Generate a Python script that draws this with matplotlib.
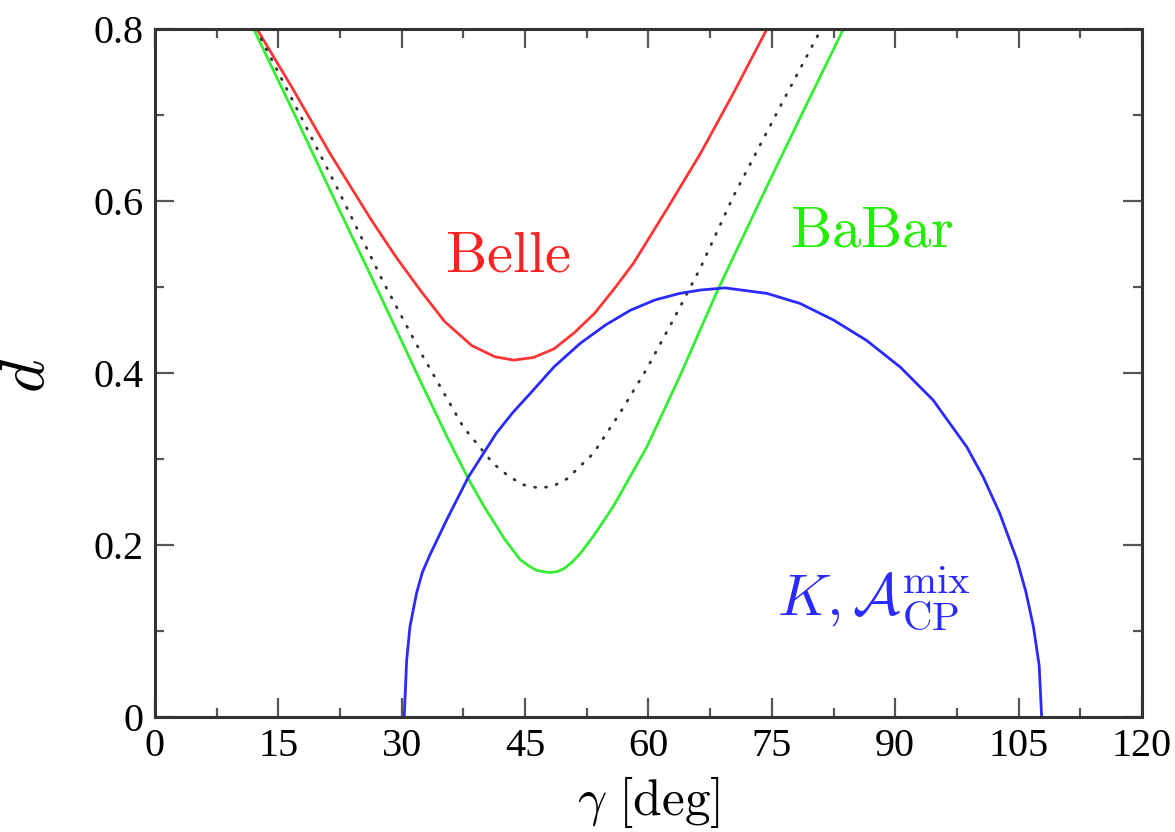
import matplotlib.pyplot as plt

# gamma [deg] vs d
gamma_belle = [12.4, 16.6, 21.3, 26.3, 29.3, 32.2, 35.2, 38.5, 41.3, 43.6, 46.0, 48.5, 51.0, 53.5,
               56.0, 58.2, 62.2, 66.3, 70.3, 74.4]
d_belle = [0.80, 0.733, 0.655, 0.578, 0.535, 0.497, 0.460, 0.432, 0.419, 0.415, 0.418, 0.428, 0.447, 0.470,
           0.500, 0.528, 0.590, 0.655, 0.725, 0.80]

gamma_babar = [12.0, 17.0, 22.0, 27.4, 32.2, 35.5, 38.1, 40.0, 42.5, 44.4, 45.4, 46.3, 47.2, 48.0,
               48.9, 49.8, 50.7, 51.7, 53.5, 55.7, 59.8, 63.8, 68.3, 74.4, 79.0, 83.7]
d_babar = [0.80, 0.70, 0.598, 0.49, 0.392, 0.326, 0.277, 0.245, 0.207, 0.183, 0.176, 0.171, 0.169, 0.168,
           0.169, 0.173, 0.180, 0.190, 0.213, 0.2445, 0.314, 0.396, 0.494, 0.617, 0.708, 0.80]

gamma_avg = [12.3, 17.0, 22.0, 27.8, 32.6, 37.5, 41.1, 43.0, 44.8, 46.8, 48.5, 50.1, 53.3, 56.5, 59.8,
             63.0, 66.3, 70.3, 76.4, 81.0]
d_avg = [0.80, 0.712, 0.618, 0.505, 0.419, 0.337, 0.295, 0.280, 0.270, 0.266, 0.269, 0.277, 0.3065, 0.353,
         0.405, 0.4616, 0.522, 0.605, 0.717, 0.80]

gamma_mix = [30.3, 30.6, 31.0, 31.8, 32.5, 33.4, 35.5, 38.1, 41.5, 43.5, 45.6, 48.5, 51.7, 54.8, 57.8,
             60.8, 63.8, 66.3, 69.3, 74.4, 78.4, 82.5, 86.5, 90.6, 94.6, 98.7, 100.7, 102.7, 104.8,
             105.9, 106.8, 107.5, 107.8]
d_mix = [0.0, 0.066, 0.105, 0.144, 0.168, 0.188, 0.230, 0.279, 0.330, 0.354, 0.376, 0.407, 0.4345, 0.456,
         0.473, 0.485, 0.4926, 0.4965, 0.499, 0.4926, 0.481, 0.4616, 0.438, 0.407, 0.3686, 0.314, 0.279,
         0.237, 0.1826, 0.145, 0.105, 0.06, 0.0]

xticks = [0, 15, 30, 45, 60, 75, 90, 105, 120]
yticks = [0, 0.2, 0.4, 0.6, 0.8]
ytick_labels = ["0", "0.2", "0.4", "0.6", "0.8"]

plt.rcParams['mathtext.fontset'] = 'cm'
plt.rcParams['font.family'] = ['Liberation Serif', 'DejaVu Serif']

fig = plt.figure(figsize=(11.75, 8.32), dpi=100)
ax = fig.add_axes([0.1319, 0.1382, 0.8400, 0.8269])

ax.plot(gamma_belle, d_belle, color='#ff3535', lw=2.0)
ax.plot(gamma_babar, d_babar, color='#33ee33', lw=2.0)
ax.plot(gamma_avg, d_avg, color='#333333', lw=2.0, linestyle=(0, (0.4, 3.6)), dash_capstyle='round')
ax.plot(gamma_mix, d_mix, color='#2a2aff', lw=2.0)

ax.text(42.9, 0.534, r'$\mathrm{Belle}$', color='#ff2020', fontsize=42, ha='center', va='center')
ax.text(87.2, 0.563, r'$\mathrm{BaBar}$', color='#22ee00', fontsize=42, ha='center', va='center')
ax.text(87.4, 0.138, r'$K, \mathcal{A}_{\mathrm{CP}}^{\mathrm{mix}}$', color='#2a2aff', fontsize=42,
        ha='center', va='center')

ax.set_xlim(0, 120)
ax.set_ylim(0, 0.8)
ax.set_xticks(xticks)
ax.set_xticklabels([str(t) for t in xticks])
ax.set_xticks([7.5 + 15 * i for i in range(8)], minor=True)
ax.set_yticks(yticks)
ax.set_yticklabels(ytick_labels)
ax.set_yticks([0.1, 0.3, 0.5, 0.7], minor=True)

ax.tick_params(which='both', direction='in', top=True, right=True, color='#555555', labelsize=29)
ax.tick_params(which='major', length=13.5, width=1.6, pad=8)
ax.tick_params(which='minor', length=6.5, width=1.6)
for s in ax.spines.values():
    s.set_linewidth(2.2)
    s.set_color('#333333')

ax.set_xlabel(r'$\gamma\ [\mathrm{deg}]$', fontsize=37)
ax.xaxis.set_label_coords(0.5, -0.083)
ax.set_ylabel(r'$d$', fontsize=46, rotation=90)
ax.yaxis.set_label_coords(-0.098, 0.497)

plt.savefig("out.png", dpi=100)
